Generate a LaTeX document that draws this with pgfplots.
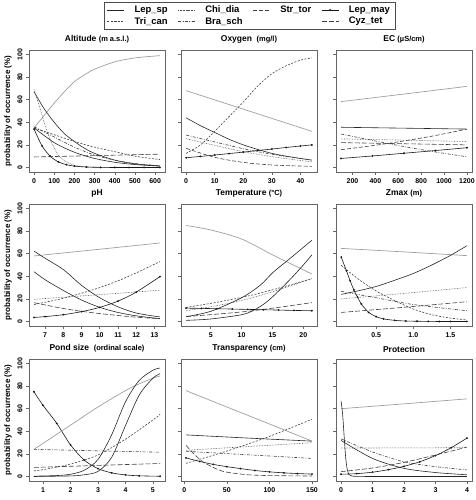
\documentclass[border=0pt]{standalone}
\usepackage{fontspec}
\setmainfont{Liberation Sans}
\usepackage{pgfplots}
\pgfplotsset{compat=1.18}
\pgfplotsset{
  sLep/.style={black!85, line width=0.6pt, smooth, no marks},
  sChi/.style={black!70, line width=0.6pt, densely dotted, smooth, no marks},
  sStr/.style={black!75, line width=0.6pt, dash pattern=on 4pt off 2pt, smooth, no marks},
  sMay/.style={black!90, line width=0.6pt, smooth, mark=*, mark size=0.6pt, mark options={solid,fill=black}},
  sTri/.style={black!75, line width=0.6pt, dash pattern=on 2pt off 1.5pt, smooth, no marks},
  sBra/.style={black!75, line width=0.6pt, dash pattern=on 3pt off 1.5pt on 0.8pt off 1.5pt, smooth, no marks},
  sCyz/.style={black!75, line width=0.6pt, dash pattern=on 5pt off 2pt, smooth, no marks},
  sGray/.style={black!38, line width=0.7pt, smooth, no marks},
  panel/.style={
    scale only axis, width=136bp, height=122bp,
    ymin=-4, ymax=104, ytick={0,20,40,60,80,100},
    axis line style={black!60, line width=0.6pt},
    tick style={black!60, line width=0.5pt},
    tick align=outside, tick pos=left, major tick length=3bp,
    ticklabel style={font=\bfseries\fontsize{7}{8}\selectfont},
    yticklabel style={rotate=90, anchor=south},
    title style={font=\bfseries\fontsize{8.5}{10}\selectfont, yshift=-3bp},
    /pgf/number format/assume math mode=true,
    /pgf/number format/1000 sep={},
    scaled ticks=false,
    anchor=south west,
  },
  col1/.style={panel, ylabel={probability of occurrence (\%)},
    ylabel style={font=\bfseries\fontsize{8}{9}\selectfont, yshift=-1bp}},
  colN/.style={panel, yticklabels={}},
}
\newcommand{\un}[1]{{\fontsize{7.5}{9}\selectfont #1}}
\begin{document}
\begin{tikzpicture}
\path[use as bounding box] (0,0) rectangle (476bp,500bp);

% ---------------- Row 1 ----------------
\begin{axis}[col1, at={(29bp,328bp)}, title={Altitude \un{(m a.s.l.)}},
  xmin=-25, xmax=649, xtick={0,100,...,600},
  legend columns=4, legend cell align=left,
  legend style={at={(1.621,1.393)}, anchor=north, draw=black!70, line width=0.6pt,
    font=\bfseries\fontsize{9.5}{11}\selectfont, column sep=8bp, inner xsep=3bp, inner ysep=1.5bp,
    row sep=-1bp}]
\addlegendimage{sLep}\addlegendentry{Lep\_sp}
\addlegendimage{sChi}\addlegendentry{Chi\_dia}
\addlegendimage{sStr}\addlegendentry{Str\_tor}
\addlegendimage{sMay}\addlegendentry{Lep\_may}
\addlegendimage{sTri}\addlegendentry{Tri\_can}
\addlegendimage{sBra}\addlegendentry{Bra\_sch}
\addlegendimage{empty legend}\addlegendentry{}
\addlegendimage{sCyz}\addlegendentry{Cyz\_tet}
\addplot[sGray] coordinates {(0,35)(50,46)(100,57)(150,67)(200,76)(250,82)(300,87)(400,93.5)(500,97)(624,99)};
\addplot[sLep] coordinates {(0,67)(50,52)(100,40)(150,30)(200,23)(250,17)(300,12.5)(400,6.5)(500,3.2)(624,1.3)};
\addplot[sChi] coordinates {(0,69)(25,55)(50,40)(75,27)(100,17)(125,10)(150,6)(200,2)(250,0.6)(350,0.1)(624,0)};
\addplot[sMay] coordinates {(0,34)(40,19)(80,10)(120,5)(160,2.5)(200,1.2)(260,0.4)(330,0.1)(400,0)(470,0)(545,0)(624,0)};
\addplot[sTri] coordinates {(0,35)(100,29)(200,23)(300,18)(400,14)(500,10)(624,7)};
\addplot[sLep] coordinates {(0,35)(100,22)(200,13.5)(300,8)(400,4.6)(500,2.6)(624,1.2)};
\addplot[sBra] coordinates {(0,36)(100,27)(200,18)(300,11)(400,6.5)(500,3.5)(624,1.5)};
\addplot[sCyz] coordinates {(0,9.3)(300,10.5)(624,11.8)};
\end{axis}

\begin{axis}[colN, at={(181bp,328bp)}, title={Oxygen\ \ \un{(mg/l)}},
  xmin=-1.8, xmax=45.8, xtick={0,10,20,30,40}]
\addplot[sGray] coordinates {(0,68)(11,59)(22,50)(33,41)(44,32)};
\addplot[sTri] coordinates {(0,12.5)(5,20)(10,32)(15,45)(20,58)(25,72)(30,83)(35,90)(40,95)(44,97)};
\addplot[sLep] coordinates {(0,44)(5,37)(10,31)(15,25)(20,20)(25,16)(30,12.5)(35,10)(40,8)(44,6.5)};
\addplot[sBra] coordinates {(0,28.7)(11,22)(22,15.5)(33,10.5)(44,6.6)};
\addplot[sChi] coordinates {(0,25.5)(11,19)(22,13)(33,8.5)(44,5)};
\addplot[sMay] coordinates {(0,8.6)(5,9.8)(10,11)(15,12.3)(20,13.6)(25,15)(30,16.3)(35,17.7)(40,19)(44,20)};
\addplot[sStr] coordinates {(0,17)(10,9)(20,4.5)(30,2.2)(44,1)};
\end{axis}

\begin{axis}[colN, at={(336bp,328bp)}, title={EC \un{(µS/cm)}},
  xmin=56, xmax=1244, xtick={200,400,...,1200}]
\addplot[sGray] coordinates {(100,58.3)(650,65)(1200,71.8)};
\addplot[sLep] coordinates {(100,35.6)(650,34.8)(1200,34)};
\addplot[sBra] coordinates {(100,29.6)(375,24)(650,18.5)(925,13.7)(1200,9.5)};
\addplot[sChi] coordinates {(100,25.3)(650,24.2)(1200,23)};
\addplot[sCyz] coordinates {(100,22)(650,21)(1200,20)};
\addplot[sStr] coordinates {(100,15.8)(375,19.3)(650,23.5)(925,28.3)(1200,34)};
\addplot[sMay] coordinates {(100,8)(375,10.2)(650,12.6)(925,15)(1200,17.5)};
\end{axis}

% ---------------- Row 2 ----------------
\begin{axis}[col1, at={(29bp,174bp)}, title={pH},
  xmin=6.12, xmax=13.58, xtick={7,8,...,13}]
\addplot[sGray] coordinates {(6.4,58)(9.85,63.7)(13.3,69.5)};
\addplot[sLep] coordinates {(6.4,62.3)(7,56)(8,46)(9,32)(10,21)(11,13)(12,7.5)(13.3,4)};
\addplot[sLep] coordinates {(6.4,44)(7,37)(8,27.5)(9,19)(10,12.5)(11,8)(12,5)(13.3,2.5)};
\addplot[sTri] coordinates {(6.4,15)(7,17)(8,20.5)(9,25)(10,30)(11,36)(12,43)(13.3,53)};
\addplot[sChi] coordinates {(6.4,19.6)(9.85,23.6)(13.3,27.7)};
\addplot[sCyz] coordinates {(6.4,16.6)(8,11.5)(9,9)(10,7)(11,5.3)(12,3.8)(13.3,2.4)};
\addplot[sMay] coordinates {(6.4,3.6)(7,4.3)(8,6)(9,8.7)(10,12.5)(11,18)(12,26)(13.3,39.7)};
\end{axis}

\begin{axis}[colN, at={(181bp,174bp)}, title={Temperature \un{(°C)}},
  xmin=0.18, xmax=22.22, xtick={5,10,15,20}]
\addplot[sGray] coordinates {(1,85)(5,81)(10,73)(15,59)(18,51)(21.4,42)};
\addplot[sLep] coordinates {(1,4.3)(5,9)(10,21)(13,32)(15,43)(17,52)(19,61)(21.4,72)};
\addplot[sLep] coordinates {(1,1)(5,2.2)(10,6)(12,10)(14,17)(16,27)(18,38)(20,50)(21.4,59)};
\addplot[sTri] coordinates {(1,12.4)(6,17)(11,22.5)(16,29.5)(21.4,38)};
\addplot[sChi] coordinates {(1,9.5)(6,14)(11,20)(16,28)(21.4,38)};
\addplot[sCyz] coordinates {(1,4.3)(6,6.5)(11,9)(16,12.5)(21.4,16.7)};
\addplot[sMay] coordinates {(1,11.8)(3.5,11.6)(6,11.3)(8.5,11)(11,10.7)(13.5,10.4)(16,10.1)(18.5,9.8)(21.4,9.5)};
\end{axis}

\begin{axis}[colN, at={(336bp,174bp)}, title={Zmax \un{(m)}},
  xmin=-0.04, xmax=1.79, xtick={0.5,1.0,1.5}, xticklabels={0.5,1.0,1.5}]
\addplot[sGray] coordinates {(0.03,64.7)(0.9,61.5)(1.72,58.3)};
\addplot[sLep] coordinates {(0.03,24)(0.25,27)(0.5,31)(0.75,36.5)(1.0,42.5)(1.25,50)(1.5,58.5)(1.72,67)};
\addplot[sMay] coordinates {(0.03,57)(0.1,45)(0.15,36)(0.2,28)(0.25,21.5)(0.3,15.5)(0.4,8)(0.5,4.3)(0.6,2.3)(0.75,1)(0.9,0.4)(1.05,0.2)(1.2,0.1)(1.35,0)(1.5,0)(1.72,0)};
\addplot[sTri] coordinates {(0.03,49.7)(0.25,38)(0.5,27)(0.75,18.5)(1.0,11)(1.25,6)(1.5,3)(1.72,1.4)};
\addplot[sBra] coordinates {(0.03,26.7)(0.5,21)(1.0,15)(1.72,9.5)};
\addplot[sChi] coordinates {(0.03,20)(0.9,25)(1.72,30)};
\addplot[sCyz] coordinates {(0.03,8)(0.9,12.7)(1.72,17.5)};
\end{axis}

% ---------------- Row 3 ----------------
\begin{axis}[col1, at={(29bp,19bp)}, title={Pond size\ \ \un{(ordinal scale)}},
  xmin=0.49, xmax=5.44, xtick={1,2,3,4,5}]
\addplot[sMay] coordinates {(0.67,75)(1,63)(1.5,47)(2,28)(2.5,14.5)(3,7)(3.5,3.2)(4,1.4)(4.5,0.6)(5.26,0.2)};
\addplot[sGray] coordinates {(0.67,24)(1,29.3)(2,45.4)(3,61.5)(4,76)(4.5,82)(5,87)(5.26,89)};
\addplot[sLep] coordinates {(0.67,0.3)(1.5,0.8)(2,2)(2.5,5.5)(3,15)(3.5,37)(4,66)(4.5,85)(5,94)(5.26,96)};
\addplot[sLep] coordinates {(0.67,0)(2,0.5)(2.5,1.5)(3,4.5)(3.5,17)(4,45)(4.5,72)(5,87)(5.26,91)};
\addplot[sTri] coordinates {(0.67,5)(1,6)(2,11)(3,19)(4,33)(5,50)(5.26,55)};
\addplot[sBra] coordinates {(0.67,24)(3,22.7)(5.26,21.5)};
\addplot[sCyz] coordinates {(0.67,8)(3,9.8)(5.26,11.5)};
\end{axis}

\begin{axis}[colN, at={(181bp,19bp)}, title={Transparency \un{(cm)}},
  xmin=-3.9, xmax=155.9, xtick={0,50,100,150}]
\addplot[sGray] coordinates {(2,76)(50,61.5)(100,46.5)(150,31.3)};
\addplot[sLep] coordinates {(2,36.8)(75,34)(150,31.3)};
\addplot[sTri] coordinates {(2,11.6)(50,22.5)(100,35.5)(150,50.7)};
\addplot[sChi] coordinates {(2,23.2)(75,26.5)(150,29.9)};
\addplot[sBra] coordinates {(2,22.3)(75,19.2)(150,16)};
\addplot[sMay] coordinates {(2,16.5)(18,13.3)(34,10.7)(50,8.7)(66,7)(83,5.3)(100,4.1)(117,3.2)(133,2.6)(150,2.1)};
\addplot[sCyz] coordinates {(2,27.5)(10,21)(20,14)(30,9.5)(40,6)(50,3.8)(75,1.5)(100,0.8)(150,0.4)};
\end{axis}

\begin{axis}[colN, at={(336bp,19bp)}, title={Protection},
  xmin=-0.16, xmax=4.16, xtick={0,1,2,3,4}]
\addplot[sGray] coordinates {(0,60)(2,64.3)(4,68.7)};
\addplot[sLep] coordinates {(0,67)(0.05,55)(0.1,35)(0.15,16)(0.2,6)(0.26,1.5)(0.35,0.4)(0.5,0.1)(1,0)(2,0)(4,0)};
\addplot[sBra] coordinates {(0,33.3)(1,21.7)(2,13)(3,8.7)(4,5.8)};
\addplot[sLep] coordinates {(0,31.9)(1,16)(2,7.2)(3,3.5)(4,1.5)};
\addplot[sChi] coordinates {(0,25.2)(2,25.3)(4,25.5)};
\addplot[sMay] coordinates {(0,2)(0.5,2.5)(1,3.8)(1.5,6)(2,9)(2.5,13)(3,18.5)(3.5,25.5)(4,34)};
\addplot[sCyz] coordinates {(0,4.3)(1,7.5)(2,12.5)(3,19)(4,26)};
\end{axis}
\end{tikzpicture}
\end{document}
